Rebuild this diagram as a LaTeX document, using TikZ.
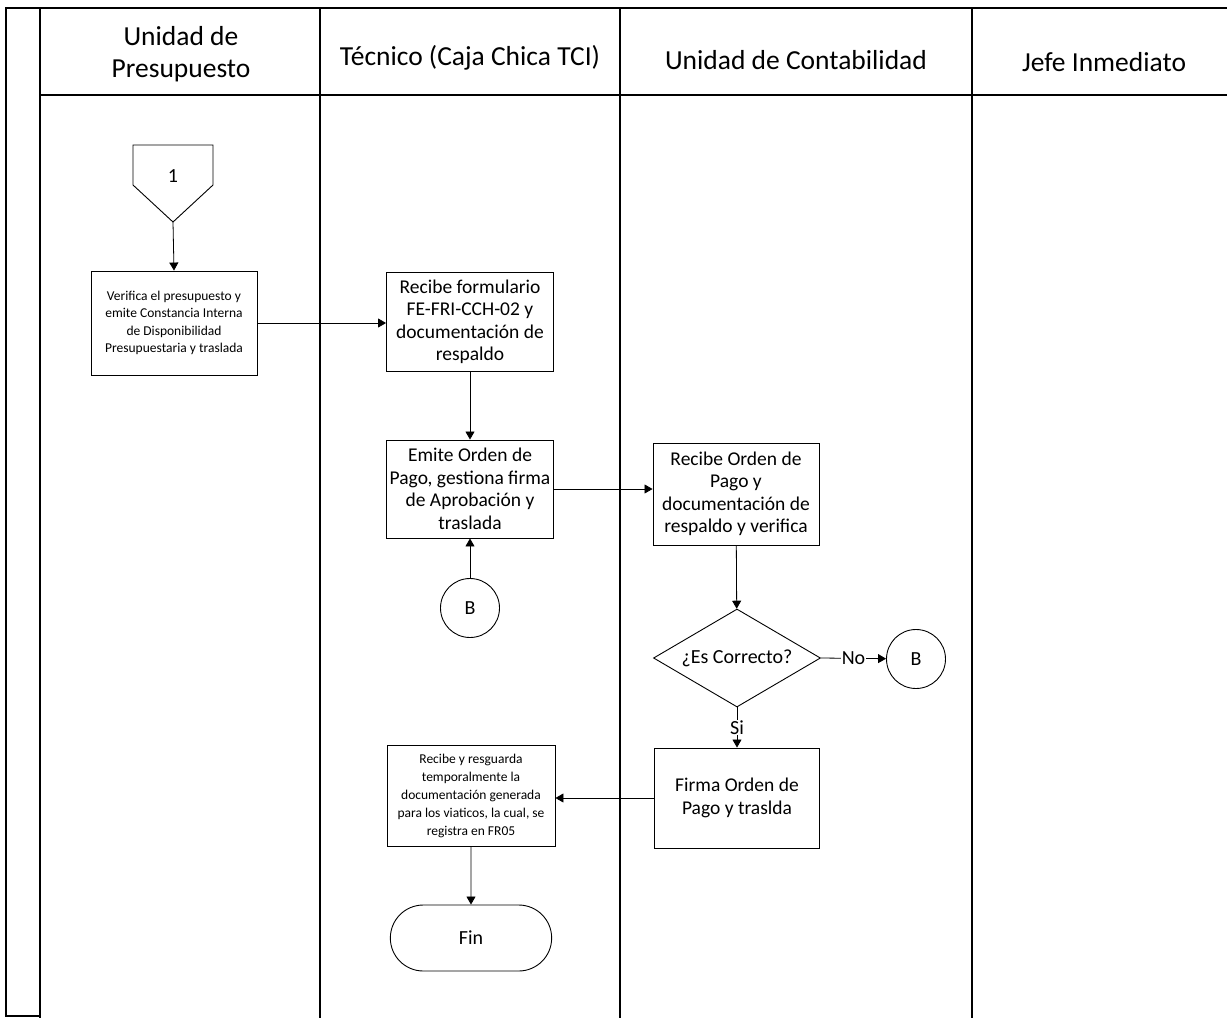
\documentclass[tikz,border=0pt]{standalone}
\usepackage{fontspec}
\setmainfont{Carlito}
\usetikzlibrary{arrows.meta,shapes.geometric,shapes.misc}
\begin{document}
\begin{tikzpicture}[x=1pt,y=-1pt,
  lane/.style={line width=1.2pt},
  proc/.style={draw,line width=0.9pt,minimum width=166pt,align=center,inner sep=1pt},
  smalltxt/.style={font=\fontsize{13.5}{17.5}\selectfont},
  midtxt/.style={font=\fontsize{19.5}{22.5}\selectfont},
  hdr/.style={font=\fontsize{27.5}{32}\selectfont,align=center},
  conn/.style={draw,circle,line width=0.9pt,minimum size=59pt,inner sep=0pt,font=\fontsize{20}{20}\selectfont},
  arr/.style={line width=0.8pt,-{Triangle[length=8pt,width=9pt]}}]
\useasboundingbox (0,0) rectangle (1227,1018);
% frame and lanes
\draw[lane] (1227,8) -- (6,8) -- (6,1016) -- (40,1016);
\draw[lane] (40,8) -- (40,1018);
\draw[lane] (320,8) -- (320,1018);
\draw[lane] (620,8) -- (620,1018);
\draw[lane] (972,8) -- (972,1018);
\draw[lane] (40,95) -- (1227,95);
% headers
\node[hdr] (h1) at (181,54) {Unidad de\\Presupuesto};
\node[hdr] (h2) at (470,58) {Técnico (Caja Chica TCI)};
\node[hdr] (h3) at (796,60) {Unidad de Contabilidad};
\node[hdr] (h4) at (1104,62) {Jefe Inmediato};
% offpage 1
\draw[line width=0.9pt] (133,145) -- (213,145) -- (213,185) -- (173,222) -- (133,185) -- cycle;
\coordinate (p1) at (173,222);
\node[font=\fontsize{20}{20}\selectfont] (one) at (173,176) {1};
% boxes
\node[proc,smalltxt,minimum height=104pt] (b1) at (174,323) {Verifica el presupuesto y\\emite Constancia Interna\\de Disponibilidad\\Presupuestaria y traslada};
\node[proc,midtxt,minimum height=99pt,minimum width=167pt] (b2) at (470,322) {Recibe formulario\\FE-FRI-CCH-02 y\\documentación de\\respaldo};
\node[proc,midtxt,minimum height=98pt,minimum width=167pt] (b3) at (470,489) {Emite Orden de\\Pago, gestiona firma\\de Aprobación y\\traslada};
\node[proc,midtxt,minimum height=102pt] (b4) at (736,494) {Recibe Orden de\\Pago y\\documentación de\\respaldo y verifica};
\node[draw,diamond,line width=0.9pt,aspect=1.7,minimum width=167pt,minimum height=98pt,inner sep=0pt,font=\fontsize{20}{22}\selectfont] (d) at (737,658) {¿Es Correcto?};
\node[proc,midtxt,minimum height=100pt,minimum width=165pt] (b5) at (737,798) {Firma Orden de\\Pago y traslda};
\node[proc,font=\fontsize{13.5}{18}\selectfont,minimum height=101pt,minimum width=168pt] (b6) at (471,796) {Recibe y resguarda\\temporalmente la\\documentación generada\\para los viaticos, la cual, se\\registra en FR05};
\node[draw,rounded rectangle,line width=0.9pt,minimum width=168pt,minimum height=66pt,font=\fontsize{20}{20}\selectfont] (fin) at (471,938) {Fin};
\node[conn] (cB1) at (470,608) {B};
\node[conn] (cB2) at (916,659) {B};
% connectors
\draw[arr] (p1) -- (b1.north);
\draw[arr] (b1.east) -- (b2.west |- b1.east);
\draw[arr] (b2) -- (b3);
\draw[arr] (b3.east) -- (b4.west |- b3.east);
\draw[arr] (b4) -- (d);
\draw[arr] (d.east) -- node[fill=white,inner sep=1pt,font=\fontsize{20}{20}\selectfont] (no) {No} (cB2);
\draw[arr] (d.south) -- node[fill=white,inner sep=1pt,font=\fontsize{20}{20}\selectfont] (si) {Si} (b5.north);
\draw[arr] (b5.west) -- (b6.east |- b5.west);
\draw[arr] (b6) -- (fin);
\draw[arr] (cB1) -- (b3);
\end{tikzpicture}
\end{document}
